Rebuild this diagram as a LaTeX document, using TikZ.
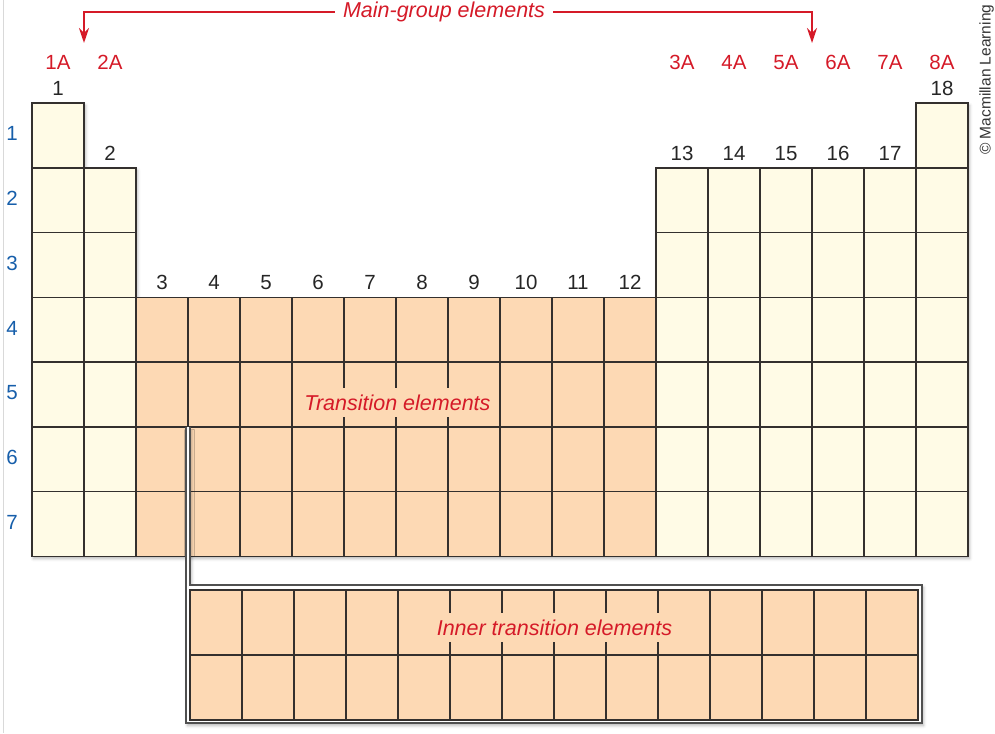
\documentclass[tikz,border=0pt]{standalone}
\usepackage{fontspec}
\setmainfont{Liberation Sans}
\usetikzlibrary{shadows.blur,arrows.meta}
\definecolor{cellY}{RGB}{255,251,230}
\definecolor{cellO}{RGB}{253,217,180}
\definecolor{redT}{RGB}{213,26,40}
\definecolor{blueT}{RGB}{22,94,170}
\definecolor{gridC}{RGB}{52,48,46}
\definecolor{frameC}{RGB}{80,80,80}
\begin{document}
\begin{tikzpicture}[x=1pt,y=-1pt,
  ycell/.style={draw=gridC, line width=1.5pt, fill=cellY, minimum width=52pt, minimum height=64.75pt, inner sep=0pt, outer sep=0pt},
  ocell/.style={ycell, fill=cellO},
  icell/.style={ocell, minimum height=65pt},
  glab/.style={font=\fontsize{20.5}{22}\selectfont, text=black!85, inner sep=0pt, anchor=base},
  alab/.style={font=\fontsize{20.5}{22}\selectfont, text=redT, inner sep=0pt, anchor=base},
  rlab/.style={font=\fontsize{20.5}{22}\selectfont, text=blueT, inner sep=0pt, anchor=base},
  ilab/.style={font=\fontsize{21.5}{24}\selectfont\itshape, text=redT},
  redline/.style={draw=redT, line width=2pt, -{Stealth[length=15pt,width=10pt,inset=5pt]}},
  shad/.style={blur shadow={shadow xshift=1.5pt, shadow yshift=-2.5pt, shadow blur radius=3pt, shadow opacity=30}}
]
\useasboundingbox (0,0) rectangle (995,733);
\draw[black!15, line width=1pt] (3,0) -- (3,733);
% main table shadow
\fill[white, shad] (32,103) -- (84,103) -- (84,168) -- (136,168) -- (136,298) -- (656,298) -- (656,168) -- (916,168) -- (916,103) -- (968,103) -- (968,556) -- (32,556) -- cycle;
% cells
\foreach \g in {1,18} \node[ycell] (c1-\g) at ({32+52*(\g-0.5)},{103+64.75*0.5}) {};
\foreach \r in {2,3} \foreach \g in {1,2,13,14,15,16,17,18}
  \node[ycell] (c\r-\g) at ({32+52*(\g-0.5)},{103+64.75*(\r-0.5)}) {};
\foreach \r in {4,...,7} {
  \foreach \g in {1,2,13,14,15,16,17,18}
    \node[ycell] (c\r-\g) at ({32+52*(\g-0.5)},{103+64.75*(\r-0.5)}) {};
  \foreach \g in {3,...,12}
    \node[ocell] (c\r-\g) at ({32+52*(\g-0.5)},{103+64.75*(\r-0.5)}) {};
}
% frame of inner transition block
\draw[frameC, line width=1.3pt, fill=white, shad] (186,427) -- (186,723) -- (922,723) -- (922,585) -- (190,585) -- (190,427);
\foreach \r in {1,2} \foreach \k in {1,...,14}
  \node[icell] (i\r-\k) at ({190+52*(\k-0.5)},{590+65*(\r-0.5)}) {};
% group numbers
\node[glab, yshift=7.6pt] (gl1) at (c1-1.north) {1};
\node[glab, yshift=7.6pt] (gl2) at (c2-2.north) {2};
\foreach \g in {3,...,12} \node[glab, yshift=7.6pt] (gl\g) at (c4-\g.north) {\g};
\foreach \g in {13,...,17} \node[glab, yshift=7.6pt] (gl\g) at (c2-\g.north) {\g};
\node[glab, yshift=7.6pt] (gl18) at (c1-18.north) {18};
% A-group labels
\node[alab] (a1) at (c4-1 |- 0,69.5) {1A};
\node[alab] (a2) at (c4-2 |- 0,69.5) {2A};
\foreach \g/\t in {13/3A,14/4A,15/5A,16/6A,17/7A,18/8A}
  \node[alab] (a\g) at (c4-\g |- 0,69.5) {\t};
% period labels
\foreach \r in {1,...,7} \node[rlab] (p\r) at (12,{103+64.75*(\r-0.5)+5.4}) {\r};
% region labels
\node[ilab, fill=cellO, inner xsep=3pt, inner ysep=6.5pt, anchor=base] (te) at (397.5,410) {Transition elements};
\node[ilab, fill=cellO, inner xsep=3pt, inner ysep=6.8pt, anchor=base] (ite) at (554.5,635) {Inner transition elements};
\node[ilab, fill=white, inner xsep=8pt, inner ysep=0pt, anchor=base] (mg) at (444,17.5) {Main-group elements};
\coordinate (aL) at (84,43);
\coordinate (aR) at (812,43);
\draw[redline] (mg.west) -| (aL);
\draw[redline] (mg.east) -| (aR);
% copyright
\node[rotate=90, anchor=base west, font=\fontsize{15.5}{18}\selectfont, text=black!80, inner sep=0pt] (copy) at (990.5,155) {© Macmillan Learning};
\end{tikzpicture}
\end{document}
